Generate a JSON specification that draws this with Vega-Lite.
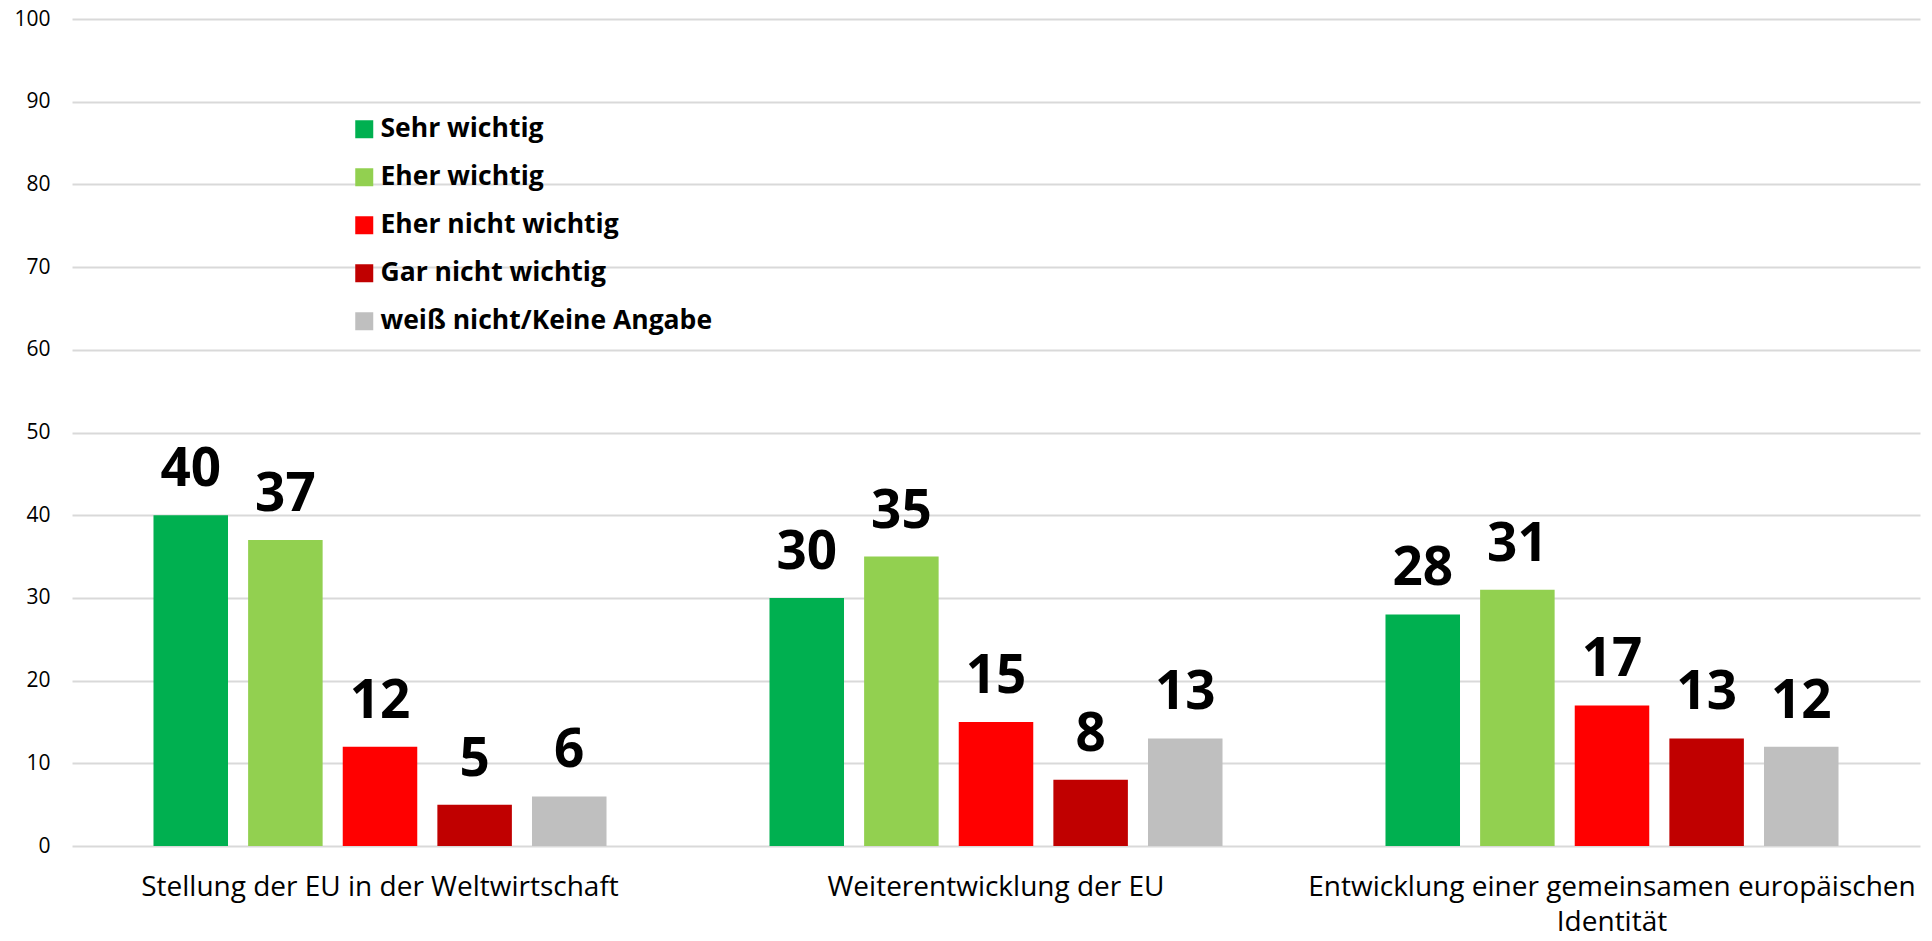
{
  "$schema": "https://vega.github.io/schema/vega-lite/v6.json",
  "width": 1848,
  "height": 827,
  "autosize": {"type": "none"},
  "padding": {"left": 72, "top": 19, "right": 12, "bottom": 95},
  "background": "white",
  "config": {"view": {"stroke": null}, "font": "Open Sans"},
  "data": {
    "values": [
      {"topic": "Stellung der EU in der Weltwirtschaft", "answer": "Sehr wichtig", "value": 40},
      {"topic": "Stellung der EU in der Weltwirtschaft", "answer": "Eher wichtig", "value": 37},
      {"topic": "Stellung der EU in der Weltwirtschaft", "answer": "Eher nicht wichtig", "value": 12},
      {"topic": "Stellung der EU in der Weltwirtschaft", "answer": "Gar nicht wichtig", "value": 5},
      {"topic": "Stellung der EU in der Weltwirtschaft", "answer": "weiß nicht/Keine Angabe", "value": 6},
      {"topic": "Weiterentwicklung der EU", "answer": "Sehr wichtig", "value": 30},
      {"topic": "Weiterentwicklung der EU", "answer": "Eher wichtig", "value": 35},
      {"topic": "Weiterentwicklung der EU", "answer": "Eher nicht wichtig", "value": 15},
      {"topic": "Weiterentwicklung der EU", "answer": "Gar nicht wichtig", "value": 8},
      {"topic": "Weiterentwicklung der EU", "answer": "weiß nicht/Keine Angabe", "value": 13},
      {"topic": "Entwicklung einer gemeinsamen europäischen Identität", "answer": "Sehr wichtig", "value": 28},
      {"topic": "Entwicklung einer gemeinsamen europäischen Identität", "answer": "Eher wichtig", "value": 31},
      {"topic": "Entwicklung einer gemeinsamen europäischen Identität", "answer": "Eher nicht wichtig", "value": 17},
      {"topic": "Entwicklung einer gemeinsamen europäischen Identität", "answer": "Gar nicht wichtig", "value": 13},
      {"topic": "Entwicklung einer gemeinsamen europäischen Identität", "answer": "weiß nicht/Keine Angabe", "value": 12}
    ]
  },
  "encoding": {
    "x": {
      "field": "topic",
      "type": "nominal",
      "sort": ["Stellung der EU in der Weltwirtschaft", "Weiterentwicklung der EU", "Entwicklung einer gemeinsamen europäischen Identität"],
      "scale": {"paddingInner": 0.232, "paddingOuter": 0.116},
      "axis": {
        "title": null,
        "labelAngle": 0,
        "domain": false,
        "ticks": false,
        "labelFontSize": 28,
        "labelColor": "black",
        "labelPadding": 27,
        "labelLimit": 0,
        "labelLineHeight": 35,
        "labelBaseline": "top",
        "labelExpr": "datum.label == 'Entwicklung einer gemeinsamen europäischen Identität' ? ['Entwicklung einer gemeinsamen europäischen', 'Identität'] : datum.label"
      }
    },
    "xOffset": {
      "field": "answer",
      "type": "nominal",
      "sort": ["Sehr wichtig", "Eher wichtig", "Eher nicht wichtig", "Gar nicht wichtig", "weiß nicht/Keine Angabe"],
      "scale": {"paddingInner": 0.2125, "paddingOuter": 0.106}
    },
    "y": {
      "field": "value",
      "type": "quantitative",
      "scale": {"domain": [0, 100]},
      "axis": {
        "title": null,
        "values": [0, 10, 20, 30, 40, 50, 60, 70, 80, 90, 100],
        "domain": false,
        "ticks": false,
        "gridColor": "#D9D9D9",
        "gridWidth": 2,
        "labelFontSize": 21,
        "labelPadding": 22,
        "labelColor": "black"
      }
    }
  },
  "layer": [
    {
      "mark": {"type": "bar"},
      "encoding": {
        "color": {
          "field": "answer",
          "type": "nominal",
          "sort": ["Sehr wichtig", "Eher wichtig", "Eher nicht wichtig", "Gar nicht wichtig", "weiß nicht/Keine Angabe"],
          "scale": {
            "domain": ["Sehr wichtig", "Eher wichtig", "Eher nicht wichtig", "Gar nicht wichtig", "weiß nicht/Keine Angabe"],
            "range": ["#00B050", "#92D050", "#FF0000", "#C00000", "#BFBFBF"]
          },
          "legend": {
            "title": null,
            "orient": "none",
            "legendX": 279,
            "legendY": 97,
            "direction": "vertical",
            "symbolType": "square",
            "symbolSize": 324,
            "symbolStrokeWidth": 0,
            "labelFontSize": 26.5,
            "labelFontWeight": "bold",
            "labelColor": "black",
            "labelOffset": 3,
            "labelLimit": 600,
            "rowPadding": 21,
            "padding": 0
          }
        }
      }
    },
    {
      "mark": {"type": "text", "fontSize": 53, "fontWeight": "bold", "baseline": "alphabetic", "dy": -29, "color": "black"},
      "encoding": {"text": {"field": "value", "type": "quantitative"}}
    }
  ]
}
